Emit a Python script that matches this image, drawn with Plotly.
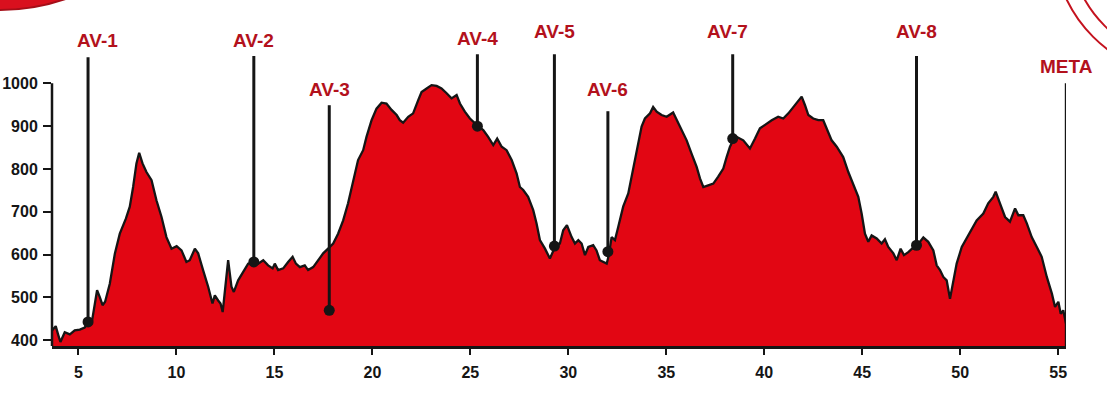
import plotly.graph_objects as go

# ---- profile data (km, metres) ----
dist_km = [3.65, 3.84, 3.96, 4.08, 4.30, 4.56, 4.81, 5.07, 5.32, 5.48,
           5.67, 5.78, 5.95, 6.09, 6.23, 6.36, 6.60, 6.86, 7.11, 7.42,
           7.62, 7.79, 7.96, 8.10, 8.27, 8.47, 8.73, 8.98, 9.24, 9.49,
           9.75, 10.01, 10.26, 10.51, 10.68, 10.94, 11.11, 11.36, 11.62, 11.84,
           11.96, 12.13, 12.25, 12.36, 12.49, 12.64, 12.81, 12.93, 13.15, 13.41,
           13.66, 13.92, 14.17, 14.43, 14.68, 14.91, 15.02, 15.19, 15.45, 15.70,
           15.93, 16.10, 16.30, 16.55, 16.72, 16.98, 17.23, 17.49, 17.74, 18.00,
           18.25, 18.51, 18.76, 19.02, 19.27, 19.53, 19.70, 19.96, 20.21, 20.47,
           20.72, 20.98, 21.24, 21.40, 21.57, 21.83, 22.08, 22.34, 22.51, 22.77,
           23.02, 23.28, 23.53, 23.79, 24.04, 24.30, 24.47, 24.72, 24.98, 25.32,
           25.66, 25.91, 26.17, 26.37, 26.60, 26.85, 27.11, 27.36, 27.53, 27.70,
           27.95, 28.21, 28.38, 28.55, 28.81, 29.06, 29.32, 29.57, 29.74, 29.93,
           30.17, 30.34, 30.51, 30.68, 30.85, 31.02, 31.27, 31.44, 31.61, 31.96,
           32.07, 32.21, 32.38, 32.55, 32.80, 33.06, 33.23, 33.40, 33.57, 33.74,
           33.91, 34.17, 34.33, 34.51, 34.76, 35.02, 35.35, 35.53, 35.78, 36.04,
           36.29, 36.55, 36.72, 36.89, 37.14, 37.40, 37.65, 37.91, 38.08, 38.25,
           38.42, 38.59, 38.93, 39.27, 39.53, 39.78, 40.04, 40.38, 40.71, 40.97,
           41.23, 41.48, 41.74, 41.91, 42.08, 42.25, 42.50, 42.76, 43.01, 43.19,
           43.44, 43.70, 44.03, 44.29, 44.54, 44.80, 44.97, 45.14, 45.31, 45.48,
           45.74, 45.99, 46.16, 46.33, 46.59, 46.76, 46.96, 47.13, 47.35, 47.61,
           47.74, 47.95, 48.12, 48.37, 48.63, 48.80, 48.97, 49.14, 49.31, 49.48,
           49.62, 49.82, 50.08, 50.33, 50.59, 50.84, 51.18, 51.43, 51.69, 51.81,
           52.03, 52.29, 52.54, 52.80, 52.97, 53.22, 53.40, 53.65, 53.91, 54.16,
           54.42, 54.68, 54.84, 55.01, 55.13, 55.26, 55.40]

elevation_m = [423, 433, 414, 396, 419, 414, 423, 425, 430, 440,
               439, 470, 517, 501, 482, 490, 532, 603, 649, 684,
               712, 758, 813, 838, 813, 793, 774, 727, 688, 641,
               614, 620, 610, 583, 587, 614, 603, 564, 525, 486,
               505, 493, 486, 466, 520, 587, 525, 513, 540, 560,
               579, 583, 579, 587, 575, 568, 579, 564, 568, 583,
               595, 579, 571, 575, 564, 571, 587, 603, 614, 626,
               649, 680, 720, 774, 821, 844, 875, 914, 941, 955,
               953, 938, 926, 914, 908, 922, 930, 961, 980, 988,
               996, 994, 988, 977, 965, 973, 953, 934, 918, 903,
               891, 875, 856, 871, 852, 844, 821, 790, 758, 751,
               735, 704, 673, 634, 614, 591, 618, 626, 657, 669,
               641, 626, 634, 626, 599, 618, 622, 610, 587, 579,
               600, 641, 634, 665, 712, 743, 782, 821, 852, 899,
               918, 930, 945, 934, 926, 922, 932, 914, 891, 867,
               836, 805, 778, 758, 762, 766, 782, 801, 828, 852,
               868, 875, 867, 848, 871, 895, 903, 914, 922, 918,
               930, 945, 961, 969, 949, 926, 918, 914, 914, 895,
               867, 852, 828, 793, 766, 735, 696, 649, 630, 645,
               638, 626, 636, 618, 603, 587, 614, 599, 606, 618,
               622, 630, 640, 630, 610, 575, 564, 548, 540, 497,
               532, 579, 618, 638, 657, 680, 696, 720, 735, 747,
               720, 688, 677, 708, 692, 692, 673, 641, 618, 595,
               548, 509, 478, 490, 462, 470, 439]

# ---- aid stations ----
station_names = ["AV-1", "AV-2", "AV-3", "AV-4", "AV-5", "AV-6", "AV-7", "AV-8"]
station_km = [5.49, 13.95, 17.80, 25.36, 29.29, 32.02, 38.39, 47.77]
station_dot_m = [443, 583, 470, 900, 620, 607, 871, 622]
station_top_m = [1061, 1064, 949, 1068, 1068, 935, 1068, 1064]
station_label_m = [1101, 1101, 986, 1104, 1122, 986, 1122, 1122]
station_label_dx = [9, 0, 0, 0, 0, 0, -5, 0]

finish_name = "META"
finish_km = 55.39
finish_top_m = 1000
finish_label_m = 1039

x_ticks = [5, 10, 15, 20, 25, 30, 35, 40, 45, 50, 55]
y_ticks = [400, 500, 600, 700, 800, 900, 1000]

X_RANGE = [3.65, 55.40]
Y_RANGE = [386.7, 1194.7]

RED = "#E20613"
LABEL_RED = "#B3111C"
INK = "#151515"

fig = go.Figure()

fig.add_trace(go.Scatter(
    x=dist_km, y=elevation_m, mode="lines", fill="tozeroy",
    fillcolor=RED, line=dict(color=INK, width=2.3), hoverinfo="skip"))

# station poles
px, py = [], []
for k, d, t in zip(station_km, station_dot_m, station_top_m):
    px += [k, k, None]
    py += [d, t, None]
fig.add_trace(go.Scatter(x=px, y=py, mode="lines",
                         line=dict(color=INK, width=3), hoverinfo="skip"))
fig.add_trace(go.Scatter(x=station_km, y=station_dot_m, mode="markers",
                         marker=dict(color=INK, size=11), hoverinfo="skip"))
# finish pole
fig.add_trace(go.Scatter(x=[finish_km, finish_km], y=[Y_RANGE[0], finish_top_m],
                         mode="lines", line=dict(color=INK, width=2),
                         hoverinfo="skip"))

label_font = dict(family="Liberation Sans, Arial, sans-serif", size=19,
                  color=LABEL_RED, weight="bold")
for name, k, ly, dx in zip(station_names, station_km, station_label_m, station_label_dx):
    fig.add_annotation(x=k, y=ly, text=name, showarrow=False, xshift=dx,
                       yanchor="middle", xanchor="center", font=label_font)
fig.add_annotation(x=finish_km, y=finish_label_m, text=finish_name, showarrow=False,
                   xshift=1, yanchor="middle", xanchor="center", font=label_font)

# y axis line (only up to 1000)
fig.add_shape(type="line", xref="paper", x0=0, x1=0, yref="y",
              y0=Y_RANGE[0], y1=1000, line=dict(color=INK, width=2.5))

# decorative logo fragments
fig.add_shape(type="circle", xref="paper", yref="paper",
              x0=-0.2519, x1=0.1487, y0=0.9711, y1=2.1455,
              fillcolor="#D9101E", line=dict(color="#A50E18", width=2), layer="above")
fig.add_shape(type="circle", xref="paper", yref="paper",
              x0=0.9872, x1=1.2575, y0=0.7773, y1=1.5698,
              line=dict(color="#C4121E", width=2))
fig.add_shape(type="circle", xref="paper", yref="paper",
              x0=1.0030, x1=1.2417, y0=0.8235, y1=1.5236,
              line=dict(color="#C4121E", width=2))

tick_font = dict(family="Liberation Sans, Arial, sans-serif", size=16,
                 color=INK, weight="bold")
fig.update_xaxes(range=X_RANGE, tickvals=x_ticks, ticks="outside", ticklen=6,
                 tickwidth=2, tickcolor=INK, showline=True, linewidth=2.5,
                 linecolor=INK, showgrid=False, zeroline=False, tickfont=tick_font,
                 ticklabelstandoff=4)
fig.update_yaxes(range=Y_RANGE, tickvals=y_ticks, ticks="outside", ticklen=8,
                 tickwidth=2, tickcolor=INK, showline=False, showgrid=False,
                 zeroline=False, tickfont=tick_font, ticklabelstandoff=2)

fig.update_layout(width=1107, height=395, showlegend=False,
                  margin=dict(l=52, r=41, t=0, b=49),
                  plot_bgcolor="white", paper_bgcolor="white")

fig.write_html("out.html", config={"displayModeBar": False},
               post_script="document.body.style.margin='0px';document.body.style.overflow='hidden';")
